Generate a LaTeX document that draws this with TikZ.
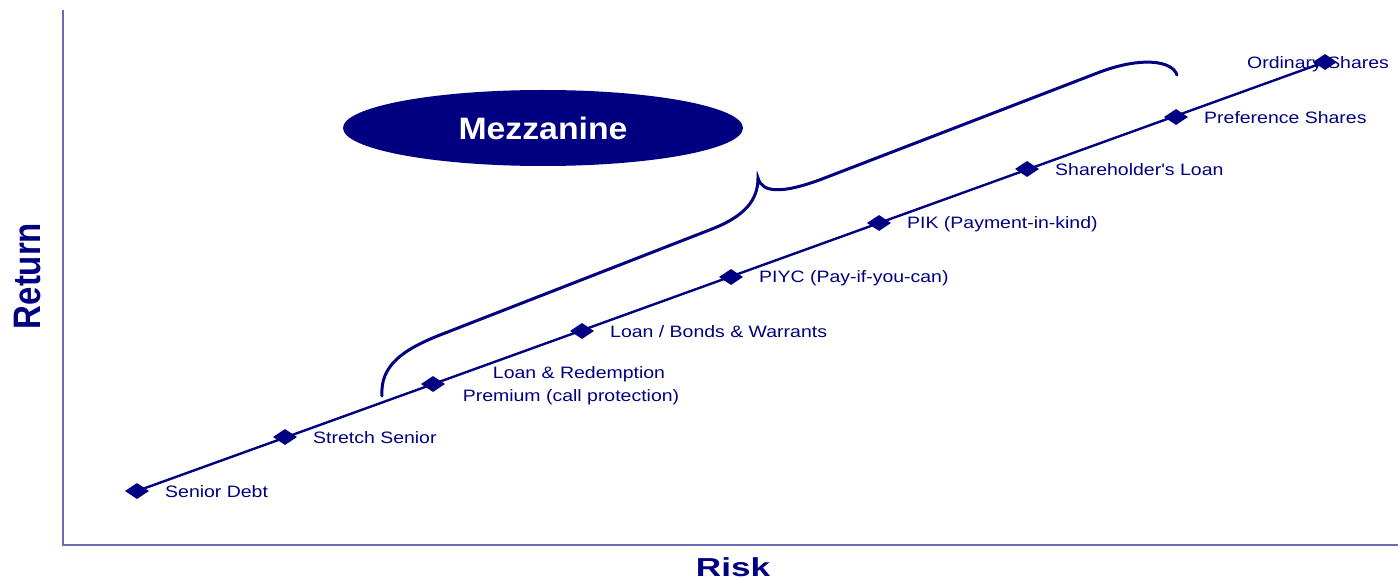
\documentclass[tikz,border=0pt]{standalone}
\usepackage{fontspec}
\setmainfont{Liberation Sans}
\newfontfamily\lblfont[FakeStretch=1.18]{Liberation Sans}
\newfontfamily\riskfont[FakeStretch=1.35]{Liberation Sans}
\newfontfamily\mezfont[FakeStretch=1.09]{Liberation Sans}
\usetikzlibrary{shapes.geometric}
\definecolor{navyc}{HTML}{000080}
\definecolor{axisc}{HTML}{6B6BB8}
\tikzset{
  pt/.style={diamond, fill=navyc, inner sep=0pt, minimum width=24pt, minimum height=16pt},
  lbl/.style={anchor=west, text=navyc, font=\lblfont\fontsize{16.5}{20}\selectfont, inner sep=0pt},
  axisline/.style={draw=axisc, line width=1.3pt},
  mainline/.style={draw=navyc, line width=2.4pt},
  bracec/.style={draw=navyc, line width=3pt, line cap=round}
}
\begin{document}
\begin{tikzpicture}[x=1pt,y=-1pt]
\useasboundingbox (0,0) rectangle (1398,580);
% axes
\coordinate (ytop) at (63,10);
\coordinate (orig) at (63,545);
\coordinate (xend) at (1398,545);
\draw[axisline] (ytop) -- (orig) -- (xend);
\node[text=navyc, inner sep=0pt, rotate=90, font=\bfseries\fontsize{33}{36}\selectfont] (ret) at (28,276) {\scalebox{1}[1.16]{Return}};
\node[text=navyc, inner sep=0pt, font=\riskfont\bfseries\fontsize{26}{30}\selectfont] (risk) at (733,567) {Risk};
% labels (drawn before points)
\coordinate (p1) at (137,491);
\coordinate (p2) at (285,437);
\coordinate (p3) at (433,384);
\coordinate (p4) at (582,331);
\coordinate (p5) at (731,277);
\coordinate (p6) at (879,223);
\coordinate (p7) at (1027,169);
\coordinate (p8) at (1176,117);
\coordinate (p9) at (1325,62);
\node[lbl] (l1) at (165,492) {Senior Debt};
\node[lbl] (l2) at (313,438) {Stretch Senior};
\node[text=navyc, font=\lblfont\fontsize{16.5}{23}\selectfont, align=center, inner sep=0pt] (l3) at (571,386) {\hspace*{16pt}Loan \& Redemption\\Premium (call protection)};
\node[lbl] (l4) at (610,332) {Loan / Bonds \& Warrants};
\node[lbl] (l5) at (759,278) {PIYC (Pay-if-you-can)};
\node[lbl] (l6) at (907,224) {PIK (Payment-in-kind)};
\node[lbl] (l7) at (1055,170) {Shareholder's Loan};
\node[lbl] (l8) at (1204,118) {Preference Shares};
\node[lbl] (l9) at (1247,64) {Ordinary Shares};
% main line
\draw[mainline] (p1) -- (p9);
\foreach \i in {1,...,9} { \node[pt] (d\i) at (p\i) {}; }
% brace
\coordinate (bl) at (382,396);
\coordinate (btip) at (758,178);
\coordinate (br) at (1177,75);
\draw[bracec] (bl) .. controls (380,366) and (402,350) .. (440,335)
  -- (712,229) .. controls (745,216) and (758,200) .. (btip)
  .. controls (762,193) and (782,194) .. (822,179)
  -- (1100,72) .. controls (1140,57) and (1172,60) .. (br);
% mezzanine
\node[ellipse, fill=navyc, minimum width=400pt, minimum height=76pt, inner sep=0pt,
  text=white, font=\mezfont\bfseries\fontsize{31}{34}\selectfont] (mez) at (543,128) {Mezzanine};
\end{tikzpicture}
\end{document}
